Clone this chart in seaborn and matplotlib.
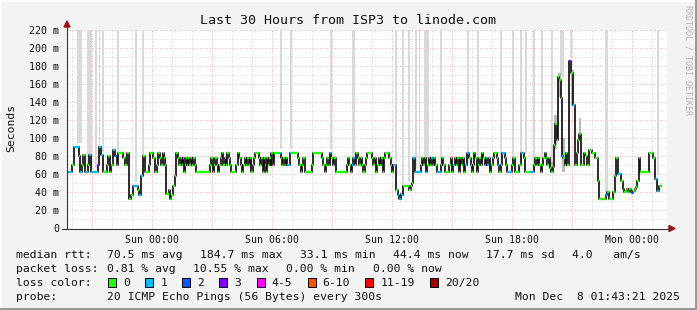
import numpy as np
import pandas as pd
import matplotlib
matplotlib.use("Agg")
import matplotlib.pyplot as plt
import seaborn as sns
from matplotlib.lines import Line2D
from matplotlib.patches import Rectangle, Polygon

# ---------------- data ----------------
# median rtt steps: start time (hours since Sat 19:45), value (ms), loss category index
seg_hours = [
    0.00, 0.25, 0.33, 0.58, 0.63, 0.75, 0.78, 0.88, 1.05, 1.12, 1.22, 1.55, 1.62, 1.72, 1.82, 1.98,
    2.05, 2.15, 2.22, 2.32, 2.38, 2.48, 2.55, 2.82, 2.88, 2.98, 3.10, 3.22, 3.28, 3.55, 3.62, 3.72,
    3.80, 3.90, 4.08, 4.15, 4.32, 4.38, 4.52, 4.55, 4.65, 4.72, 4.78, 4.85, 4.92,
    4.97, 5.08, 5.15, 5.22, 5.32, 5.38, 5.45, 5.55, 5.62, 5.68, 5.75, 5.78, 5.85, 5.88, 5.95, 6.02,
    6.05, 6.12, 6.18, 6.25, 6.32, 6.38, 6.45, 7.17, 7.22, 7.28, 7.35, 7.42, 7.48, 7.55, 7.62, 7.68,
    7.75, 7.82, 7.88, 7.95, 8.02, 8.08, 8.17, 8.22, 8.45, 8.55, 8.62, 8.68, 8.75, 8.82, 8.88, 8.95,
    9.02, 9.08, 9.15, 9.22, 9.28, 9.35, 9.42, 9.58, 9.65, 9.72, 9.78, 9.85, 9.92,
    9.97, 10.02, 10.07, 10.12, 10.18, 10.22, 10.32, 10.35, 10.62, 10.68, 10.75, 10.82, 10.88, 10.95,
    11.02, 11.15, 11.25, 11.55, 11.62, 11.68, 11.75, 11.82, 11.88, 12.25, 12.32, 12.75, 12.82, 12.88,
    12.95, 13.02, 13.08, 13.15, 13.22, 13.28, 13.35, 13.45, 14.00, 14.05, 14.12, 14.18, 14.25, 14.32,
    14.38, 14.45, 14.55, 14.62, 14.68, 14.75, 14.82, 14.88, 14.95,
    15.00, 15.25, 15.32, 15.38, 15.45, 15.52, 15.58, 15.65, 15.72, 15.78, 15.85, 15.92, 16.12, 16.18,
    16.25, 16.32, 16.45, 16.55, 16.62, 16.68, 16.75, 16.82, 17.12, 17.18, 17.25, 17.32, 17.38, 17.68,
    17.75, 17.82, 17.88, 17.95, 18.02, 18.08, 18.15, 18.22, 18.28, 18.35, 18.42, 18.48, 18.68, 18.75,
    18.82, 18.88, 19.12, 19.18, 19.25, 19.32, 19.38, 19.45, 19.52, 19.58, 19.65, 19.72, 19.78, 19.85,
    19.92,
    20.02, 20.12, 20.18, 20.25, 20.32, 20.35, 20.42, 20.48, 20.55, 20.62, 20.68, 20.75, 20.82, 20.88,
    20.95, 21.02, 21.08, 21.15, 21.22, 21.30, 21.35, 21.48, 21.55, 21.62, 21.68, 21.75, 21.88, 21.95,
    22.02, 22.25, 22.32, 22.38, 22.62, 22.68, 22.85, 22.92, 23.15, 23.35, 23.42, 23.48, 23.55, 23.62,
    23.68, 23.75, 23.82, 23.88, 23.95, 24.02, 24.08, 24.15, 24.22, 24.28, 24.35, 24.42, 24.48, 24.55,
    24.62, 24.68, 24.75, 24.82, 24.88, 24.95,
    25.02, 25.08, 25.12, 25.22, 25.28, 25.32, 25.38, 25.50, 25.55, 25.62, 25.68, 25.85, 25.92, 26.00,
    26.08, 26.25, 26.42, 26.55, 26.62, 26.88, 26.95, 27.02, 27.08, 27.32, 27.38, 27.45, 27.57, 27.72,
    27.78, 27.85, 27.92, 27.98, 28.05, 28.12, 28.18, 28.25, 28.32, 28.38, 28.45, 28.52, 28.58, 28.65,
    29.12, 29.32, 29.38, 29.52, 29.58,
]
seg_rtt = [
    63, 70, 90, 80, 63, 70, 81, 63, 70, 81, 63, 70, 90, 81, 63, 70,
    80, 63, 70, 87, 80, 70, 84, 78, 70, 84, 33, 37, 47, 43, 37, 58,
    80, 63, 70, 84, 78, 63, 70, 83, 78, 70, 83, 78, 70,
    38, 43, 33, 37, 47, 58, 84, 78, 70, 78, 70, 78, 63, 70, 78, 70,
    78, 70, 78, 70, 78, 70, 63, 70, 78, 63, 70, 78, 70, 63, 70, 78,
    84, 70, 78, 70, 84, 78, 70, 63, 70, 84, 78, 70, 63, 70, 78, 70,
    78, 70, 78, 63, 70, 78, 84, 78, 70, 78, 63, 78, 70,
    63, 78, 70, 78, 70, 84, 70, 84, 84, 78, 70, 78, 70, 78,
    70, 84, 84, 78, 70, 63, 70, 78, 63, 70, 84, 78, 70, 63,
    70, 78, 70, 84, 78, 70, 78, 63, 70, 78, 70, 63, 70, 78,
    70, 84, 78, 70, 78, 70, 63, 70, 78,
    84, 78, 70, 78, 63, 70, 78, 70, 78, 63, 78, 84, 78, 70,
    63, 70, 43, 37, 33, 38, 37, 47, 43, 47, 50, 78, 63, 70,
    78, 70, 78, 63, 70, 78, 70, 78, 70, 78, 70, 63, 70, 78,
    70, 63, 70, 78, 63, 70, 78, 70, 78, 63, 78, 70, 78, 63,
    70,
    84, 78, 70, 63, 70, 84, 78, 63, 70, 78, 70, 84, 78, 70,
    78, 70, 78, 63, 70, 78, 84, 78, 70, 63, 70, 84, 78, 70,
    63, 70, 78, 63, 70, 84, 78, 63, 63, 70, 78, 70, 78, 70,
    63, 70, 78, 84, 78, 70, 78, 67, 63, 68, 92, 116, 98, 168,
    164, 144, 80, 78, 70, 84,
    70, 120, 185, 172, 166, 137, 70, 84, 98, 105, 70, 84, 80, 70,
    87, 84, 78, 53, 33, 33, 37, 40, 33, 40, 58, 78, 60, 53,
    44, 40, 42, 44, 40, 44, 40, 39, 42, 44, 46, 53, 78, 63,
    83, 78, 55, 41, 47,
]
seg_loss = [
    1, 0, 1, 1, 1, 0, 0, 1, 0, 1, 1, 3, 1, 1, 0, 0,
    0, 0, 0, 1, 2, 1, 0, 0, 0, 0, 0, 0, 1, 0, 1, 1,
    0, 0, 0, 0, 0, 0, 0, 0, 0, 0, 0, 0, 0,
    0, 0, 0, 0, 0, 0, 0, 0, 0, 0, 0, 0, 0, 0, 0, 0,
    0, 0, 0, 0, 0, 0, 0, 0, 0, 0, 0, 0, 0, 0, 0, 0,
    0, 0, 0, 0, 0, 0, 0, 0, 0, 0, 0, 0, 0, 0, 0, 0,
    0, 0, 0, 0, 0, 0, 0, 0, 0, 0, 0, 0, 0,
    0, 0, 0, 0, 0, 0, 0, 0, 1, 0, 0, 0, 1, 0,
    1, 1, 0, 0, 0, 0, 0, 0, 0, 0, 0, 0, 0, 0,
    0, 0, 1, 1, 0, 0, 0, 0, 0, 0, 0, 1, 1, 1,
    0, 0, 0, 0, 0, 0, 0, 0, 0,
    0, 0, 0, 0, 0, 0, 0, 0, 0, 0, 0, 0, 0, 0,
    0, 1, 0, 1, 1, 0, 1, 0, 0, 0, 0, 1, 1, 0,
    0, 0, 1, 1, 0, 0, 0, 1, 0, 0, 0, 1, 0, 0,
    0, 0, 0, 0, 0, 1, 0, 0, 0, 0, 0, 0, 0, 0,
    1,
    1, 0, 0, 0, 0, 0, 0, 0, 0, 0, 0, 0, 0, 1,
    1, 1, 0, 0, 0, 0, 0, 0, 1, 0, 0, 1, 0, 0,
    1, 0, 0, 0, 0, 1, 0, 0, 1, 0, 0, 0, 0, 0,
    0, 0, 0, 1, 0, 0, 0, 0, 0, 1, 0, 0, 0, 0,
    0, 1, 1, 0, 0, 0,
    0, 0, 3, 0, 1, 1, 0, 0, 0, 0, 0, 0, 0, 0,
    0, 0, 0, 0, 0, 1, 1, 0, 0, 0, 0, 0, 1, 0,
    2, 0, 0, 0, 0, 0, 2, 2, 0, 0, 0, 0, 0, 0,
    0, 0, 1, 1, 0,
]
end_hour = 29.72

loss_labels = ["0", "1", "2", "3", "4-5", "6-10", "11-19", "20/20"]
loss_colors = ["#26ff00", "#00b8ff", "#0059ff", "#7e00ff", "#ff00ff", "#ff5500", "#ff0000", "#a10000"]

# light-grey "smoke" reaching above the graph (outlier pings), start hour and duration
band_hours = [0.50, 1.00, 1.40, 1.60, 1.75, 2.50, 3.40, 3.75, 10.65, 11.15, 13.15, 14.25,
              16.40, 16.75, 17.05, 17.40, 17.60, 17.85, 18.65, 20.00, 20.50, 21.65, 22.25,
              22.65, 22.90, 23.30, 23.70, 24.20, 24.65, 25.15, 26.90, 29.50]
band_durations = [0.25, 0.25, 0.10, 0.07, 0.10, 0.10, 0.10, 0.10, 0.10, 0.10, 0.10, 0.15,
                  0.10, 0.10, 0.10, 0.10, 0.07, 0.25, 0.10, 0.10, 0.10, 0.10, 0.10,
                  0.10, 0.10, 0.10, 0.10, 0.10, 0.20, 0.10, 0.15, 0.10]

# darker smoke near the spike
smoke_hours = [24.17, 24.35, 24.55, 24.75, 25.20, 25.58]
smoke_lo = [62, 88, 145, 63, 135, 98]
smoke_hi = [73, 125, 172, 100, 175, 122]

x_tick_hours = [4.25, 10.25, 16.25, 22.25, 28.25]
x_tick_labels = ["Sun 00:00", "Sun 06:00", "Sun 12:00", "Sun 18:00", "Mon 00:00"]
y_ticks = list(range(0, 221, 20))
y_tick_labels = ["0"] + [f"{v} m" for v in y_ticks[1:]]

title = "Last 30 Hours from ISP3 to linode.com"
rtt_label = "median rtt:"
rtt_stats = ["70.5 ms avg", "184.7 ms max", "33.1 ms min", "44.4 ms now", "17.7 ms sd", "4.0   am/s"]
loss_label = "packet loss:"
loss_stats = ["0.81 % avg", "10.55 % max", "0.00 % min", "0.00 % now"]
color_label = "loss color:"
probe_label = "probe:"
probe_text = "20 ICMP Echo Pings (56 Bytes) every 300s"
stamp_text = "Mon Dec  8 01:43:21 2025"

# ---------------- drawing ----------------
sns.set_style("white")
plt.rcParams["font.family"] = ["DejaVu Sans Mono"]

W, H = 697, 310
fig = plt.figure(figsize=(W / 100, H / 100), dpi=100, facecolor="#f3f3f3")

def fx(x):
    return x / W

def fy(y):
    return 1 - y / H

ax = fig.add_axes([fx(67), fy(228.5), 600 / W, 199 / H])
ax.set_facecolor("white")
ax.set_xlim(0, 30)
ax.set_ylim(0, 220)
for s in ax.spines.values():
    s.set_visible(False)

# grid
for yv in range(10, 221, 20):
    ax.axhline(yv, color="#c8c8c8", lw=0.6, ls=(0, (1, 2)), zorder=0)
for yv in range(20, 221, 20):
    ax.axhline(yv, color="#e89a9a", lw=0.6, ls=(0, (1, 2)), zorder=0)
for k in range(30):
    hv = 0.25 + k
    is_major = (k % 3 == 1)
    ax.axvline(hv, color="#e89a9a" if is_major else "#c8c8c8", lw=0.6, ls=(0, (1, 2)), zorder=0)

hours_arr = np.array(seg_hours)
rtt_arr = np.array(seg_rtt)

# outlier smoke bands
band_bottom = [rtt_arr[np.searchsorted(hours_arr, h, side="right") - 1] + 4 for h in band_hours]
ax.bar(band_hours, [220 - b for b in band_bottom], width=band_durations, bottom=band_bottom,
       align="edge", color="#d9d9d9", lw=0, zorder=1)
ax.bar(smoke_hours, [hi - lo for lo, hi in zip(smoke_lo, smoke_hi)], width=0.13, bottom=smoke_lo,
       align="edge", color="#a8a8a8", lw=0, zorder=2, alpha=0.8)

# median line
df = pd.DataFrame({"h": seg_hours + [end_hour], "rtt": seg_rtt + [seg_rtt[-1]]})
sns.lineplot(data=df, x="h", y="rtt", drawstyle="steps-post", color="#111111", lw=1.25,
             ax=ax, zorder=3, estimator=None, sort=False)
ends = seg_hours[1:] + [end_hour]
ax.hlines(seg_rtt, seg_hours, ends, colors=[loss_colors[l] for l in seg_loss], lw=1.7, zorder=4)

# ticks
ax.set_yticks(y_ticks)
ax.set_yticklabels(y_tick_labels, fontsize=7.2, color="#111111")
ax.tick_params(axis="y", direction="out", length=3, width=0.6, color="#555555", pad=2.6)
major_x = [1.25 + 3 * k for k in range(10)]
ax.set_xticks(major_x)
ax.set_xticklabels([x_tick_labels[x_tick_hours.index(v)] if v in x_tick_hours else "" for v in major_x],
                   fontsize=7.1, color="#111111")
ax.set_xticks([0.25 + k for k in range(30)], minor=True)
ax.tick_params(axis="x", which="major", direction="out", length=3, width=0.6, color="#d06060", pad=1.5)
ax.tick_params(axis="x", which="minor", direction="out", length=2, width=0.6, color="#bbbbbb")
ax.set_xlabel("")
ax.set_ylabel("")

# axis lines with arrows
fig.add_artist(Line2D([fx(67), fx(67)], [fy(229), fy(24)], color="#333333", lw=0.8))
fig.add_artist(Line2D([fx(62), fx(670)], [fy(228.5), fy(228.5)], color="#333333", lw=0.8))
fig.add_artist(Polygon([[fx(64), fy(27)], [fx(70), fy(27)], [fx(67), fy(21)]], closed=True,
                       color="#a01010", transform=fig.transFigure))
fig.add_artist(Polygon([[fx(669), fy(225.5)], [fx(669), fy(231.5)], [fx(675), fy(228.5)]], closed=True,
                       color="#a01010", transform=fig.transFigure))

# texts
fig.text(fx(348.5), fy(24), title, ha="center", va="baseline", fontsize=9.6, color="#111111")
fig.text(fx(11), fy(128), "Seconds", rotation=90, ha="center", va="center", fontsize=8.2, color="#111111")
fig.text(fx(688), fy(60), "RRDTOOL / TOBI OETIKER", rotation=270, ha="center", va="center",
         fontsize=6.0, color="#b4b4b4")

fs = 8.2
fig.text(fx(16), fy(258.3), rtt_label, ha="left", va="baseline", fontsize=fs, color="#111111")
for xp, t in zip([107, 200, 300, 393, 486, 572], rtt_stats):
    fig.text(fx(xp), fy(258.3), t, ha="left", va="baseline", fontsize=fs, color="#111111")
fig.text(fx(16), fy(272.3), loss_label, ha="left", va="baseline", fontsize=fs, color="#111111")
for xp, t in zip([107, 193, 286, 373], loss_stats):
    fig.text(fx(xp), fy(272.3), t, ha="left", va="baseline", fontsize=fs, color="#111111")
fig.text(fx(16), fy(286.3), color_label, ha="left", va="baseline", fontsize=fs, color="#111111")
xb = 108.0
for lab, col in zip(loss_labels, loss_colors):
    fig.add_artist(Rectangle((fx(xb), fy(286.5)), 8 / W, 9 / H, facecolor=col, edgecolor="#000000",
                             lw=0.7, transform=fig.transFigure))
    fig.text(fx(xb + 15), fy(286.3), lab, ha="left", va="baseline", fontsize=fs, color="#111111")
    xb += 15 + len(lab) * 6.86 + 15.3
fig.text(fx(16), fy(299.7), probe_label, ha="left", va="baseline", fontsize=fs, color="#111111")
fig.text(fx(107), fy(299.7), probe_text, ha="left", va="baseline", fontsize=fs, color="#111111")
fig.text(fx(680), fy(299.7), stamp_text, ha="right", va="baseline", fontsize=fs, color="#111111")

# frame
fig.add_artist(Line2D([0, 1], [fy(0.5), fy(0.5)], color="#fbfbfb", lw=1.5))
fig.add_artist(Line2D([fx(0.5), fx(0.5)], [0, 1], color="#fbfbfb", lw=1.5))
fig.add_artist(Line2D([0, 1], [fy(308.8), fy(308.8)], color="#9a9a9a", lw=2.2))
fig.add_artist(Line2D([fx(695.8), fx(695.8)], [0, 1], color="#9a9a9a", lw=2.2))

fig.savefig("out.png", dpi=100, facecolor=fig.get_facecolor())
